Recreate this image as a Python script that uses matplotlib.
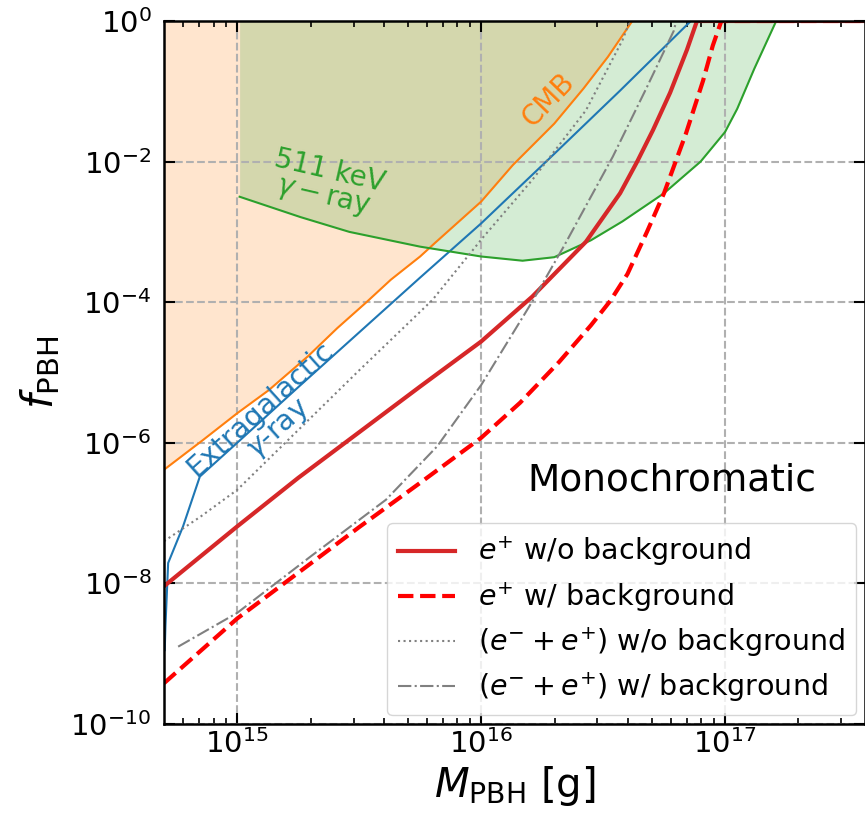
import numpy as np
import matplotlib
matplotlib.use("Agg")
import matplotlib.pyplot as plt
from matplotlib.ticker import LogLocator, NullLocator

# log10 of mass [g] and log10 of f_PBH
cmb_logm = [14.69, 14.86, 15.00, 15.13, 15.29, 15.41, 15.53, 15.63, 15.75, 15.81, 16.00, 16.13, 16.30, 16.42, 16.52, 16.62]
cmb_logf = [-6.41, -5.96, -5.58, -5.25, -4.77, -4.37, -4.00, -3.68, -3.35, -3.16, -2.57, -2.05, -1.46, -0.96, -0.51, 0.0]

egrb_logm = [14.703, 14.706, 14.717, 14.778, 14.847, 15.00, 15.25, 15.50, 15.75, 16.00, 16.30, 16.57, 16.86]
egrb_logf = [-8.95, -8.60, -7.71, -7.19, -6.48, -6.00, -5.21, -4.43, -3.65, -2.88, -1.89, -0.99, 0.0]

kev_logm = [15.01, 15.26, 15.46, 15.75, 16.00, 16.17, 16.30, 16.45, 16.58, 16.75, 16.90, 17.00, 17.05, 17.12, 17.21]
kev_logf = [-2.50, -2.79, -3.00, -3.21, -3.35, -3.41, -3.36, -3.12, -2.85, -2.45, -2.00, -1.58, -1.25, -0.68, 0.0]

pos_logm = [14.70, 15.00, 15.25, 15.50, 15.75, 16.00, 16.21, 16.43, 16.57, 16.64, 16.705, 16.775, 16.844, 16.885, 17.7]
pos_logf = [-8.04, -7.19, -6.50, -5.85, -5.20, -4.56, -3.92, -3.14, -2.45, -2.00, -1.55, -1.02, -0.41, 0.0, 0.0]

posbg_logm = [14.70, 15.00, 15.25, 15.50, 15.75, 16.00, 16.16, 16.32, 16.45, 16.53, 16.60, 16.68, 16.75, 16.84, 16.91, 16.95, 16.985, 17.7]
posbg_logf = [-9.42, -8.50, -7.85, -7.20, -6.57, -5.93, -5.43, -4.85, -4.33, -3.98, -3.60, -3.00, -2.45, -1.60, -0.85, -0.35, 0.0, 0.0]

tot_logm = [14.70, 14.85, 15.00, 15.25, 15.50, 15.80, 16.01, 16.21, 16.43, 16.58, 16.61]
tot_logf = [-7.40, -7.05, -6.67, -5.82, -4.97, -3.97, -3.07, -2.26, -1.27, -0.27, 0.0]

totbg_logm = [14.758, 15.00, 15.30, 15.61, 15.82, 16.00, 16.21, 16.34, 16.54, 16.68, 16.79, 16.80]
totbg_logf = [-8.90, -8.42, -7.62, -6.81, -6.05, -5.18, -3.99, -3.20, -1.93, -0.94, -0.14, 0.0]

def tolin(lm, lf):
    return 10.0 ** np.array(lm), 10.0 ** np.array(lf)

fig = plt.figure(figsize=(8.65, 8.23), dpi=100)
ax = fig.add_axes([0.1896, 0.1203, 0.8104, 0.8542])

m, f = tolin(cmb_logm, cmb_logf)
ax.plot(m, f, color="C1", lw=1.5)
ax.fill_between(m, f, 1, color="C1", alpha=0.2, lw=0)

m, f = tolin(egrb_logm, egrb_logf)
ax.plot(m, f, color="C0", lw=1.5)

m, f = tolin(kev_logm, kev_logf)
ax.plot(m, f, color="C2", lw=1.5)
ax.fill_between(m, f, 1, color="C2", alpha=0.2, lw=0)

m, f = tolin(pos_logm, pos_logf)
ax.plot(m, f, color="C3", lw=3, label=r"$e^{+}$ w/o background")
m, f = tolin(posbg_logm, posbg_logf)
ax.plot(m, f, color="red", lw=3, ls="--", label=r"$e^{+}$ w/ background")
m, f = tolin(tot_logm, tot_logf)
ax.plot(m, f, color="gray", lw=1.5, ls=":", label=r"$(e^{-}+e^{+})$ w/o background")
m, f = tolin(totbg_logm, totbg_logf)
ax.plot(m, f, color="gray", lw=1.5, ls="-.", label=r"$(e^{-}+e^{+})$ w/ background")

ax.set_xscale("log")
ax.set_yscale("log")
ax.set_xlim(10**14.70, 10**17.574)
ax.set_ylim(1e-10, 1)
ax.set_yticks([1e-10, 1e-8, 1e-6, 1e-4, 1e-2, 1])
ax.yaxis.set_minor_locator(NullLocator())
ax.xaxis.set_minor_locator(LogLocator(base=10, subs=np.arange(2, 10), numticks=20))

ax.grid(True, which="major", ls="--", color="#b0b0b0", lw=1.5)
ax.tick_params(which="both", direction="in", top=True, right=True, labelsize=21)
ax.tick_params(which="major", length=8, width=1.5)
ax.tick_params(which="minor", length=4, width=1.2)
ax.tick_params(axis="y", pad=9)
for s in ax.spines.values():
    s.set_linewidth(1.8)

ax.set_xlabel(r"$M_{\rm PBH}$ [g]", fontsize=29)
ax.set_ylabel(r"$f_{\rm PBH}$", fontsize=30, labelpad=6)

ax.text(10**16.275, 10**-1.12, "CMB", color="C1", fontsize=20, rotation=46,
        ha="center", va="center")
ax.text(10**15.365, 10**-2.32, "511 keV\n$\\gamma-$ray", color="C2", fontsize=20,
        rotation=-13, ha="center", va="center", linespacing=0.9)
ax.text(10**15.134, 10**-5.67, "Extragalactic\n$\\gamma$-ray", color="C0", fontsize=20.5,
        rotation=42, ha="center", va="center", linespacing=0.9)
ax.text(0.725, 0.347, "Monochromatic", transform=ax.transAxes, fontsize=27,
        ha="center", va="center")

ax.legend(loc="lower right", fontsize=20.5, borderaxespad=0.3, labelspacing=0.4)

fig.savefig("out.png", dpi=100)
